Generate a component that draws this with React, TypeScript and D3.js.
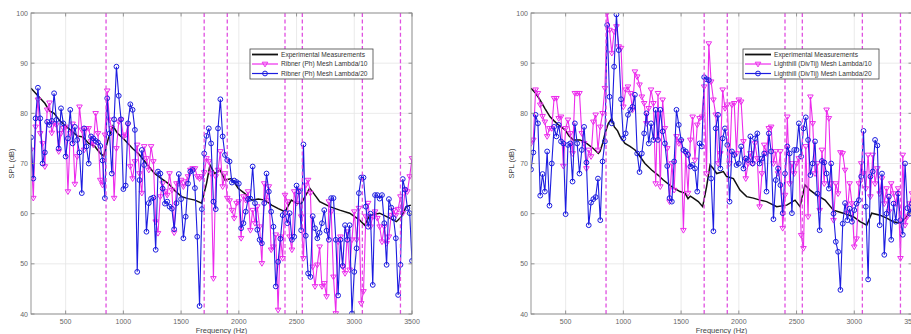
import { useRef, useEffect } from 'react';
import * as d3 from 'd3';

const W = 911;
const H = 334;
const TOP = 13;
const BOTTOM = 314;
const FONT = 'Liberation Sans, Arial, sans-serif';
const BLUE = '#1c1ce0';
const MAGENTA = '#ec2cec';

const X_DOMAIN = [200, 3500];
const Y_DOMAIN = [40, 100];
const X_TICKS = [500, 1000, 1500, 2000, 2500, 3000, 3500];
const Y_TICKS = [40, 50, 60, 70, 80, 90, 100];
const MODE_LINES = [850, 1700, 1900, 2400, 2550, 3070, 3400];

// simulated spectra share a 20 Hz frequency grid
const SIM_FREQ = d3.range(200, 3501, 20);

const RIBNER_L10 = [
  72.7, 63.1, 77.3, 82.7, 76.0, 74.0, 69.4, 80.7, 82.1, 76.1,
  78.0, 77.7, 72.4, 76.0, 77.0, 77.3, 64.4, 76.0, 77.9, 65.9,
  71.4, 81.3, 76.7, 72.7, 77.0, 77.0, 74.4, 73.7, 80.0, 76.0,
  66.7, 65.7, 75.7, 84.5, 78.7, 77.0, 63.1, 73.0, 78.3, 78.7,
  75.4, 75.7, 77.7, 69.4, 67.0, 70.4, 73.7, 68.0, 64.1, 73.4,
  71.0, 68.7, 73.4, 70.4, 58.4, 56.1, 63.4, 66.0, 64.4, 63.7,
  68.0, 64.7, 56.2, 66.0, 66.0, 66.7, 65.4, 66.4, 67.4, 68.7,
  69.0, 69.0, 67.4, 67.0, 67.4, 68.2, 71.0, 70.4, 68.0, 47.1,
  67.4, 68.7, 72.4, 65.4, 68.0, 63.1, 62.6, 60.7, 59.1, 62.1,
  62.4, 55.1, 63.4, 62.7, 64.4, 56.7, 60.7, 58.1, 61.4, 57.4,
  50.1, 66.0, 62.7, 65.4, 52.8, 53.4, 55.8, 40.8, 55.4, 51.1,
  63.7, 62.4, 55.4, 52.8, 64.4, 62.1, 64.7, 59.4, 51.1, 65.7,
  66.7, 64.1, 49.4, 45.5, 49.8, 53.4, 45.5, 46.1, 43.5, 62.4,
  60.4, 47.4, 40.1, 54.4, 55.4, 49.4, 48.1, 56.4, 48.8, 54.8,
  60.4, 54.8, 61.1, 42.1, 44.5, 59.4, 62.1, 57.4, 59.4, 60.4,
  59.1, 57.4, 54.4, 57.4, 54.1, 55.4, 59.7, 60.7, 59.7, 60.9,
  63.4, 60.1, 64.7, 64.4, 67.4, 71.0,
];

const RIBNER_L20 = [
  75.2, 67.0, 79.0, 85.1, 79.0, 70.0, 72.2, 78.3, 77.7, 78.5,
  84.0, 78.7, 73.0, 81.0, 78.0, 71.4, 75.0, 80.7, 74.0, 77.3,
  74.7, 72.2, 64.1, 77.0, 73.4, 70.0, 75.4, 75.0, 74.5, 74.2,
  73.5, 70.6, 63.1, 83.0, 76.0, 68.0, 78.8, 89.3, 83.5, 78.8,
  64.9, 65.6, 78.0, 81.8, 80.7, 76.7, 48.4, 66.7, 72.7, 69.7,
  56.4, 62.1, 63.0, 63.2, 52.8, 68.4, 68.0, 65.0, 62.0, 62.4,
  61.4, 61.0, 56.9, 62.1, 67.9, 62.9, 55.1, 59.4, 66.0, 68.4,
  68.7, 65.1, 55.4, 41.6, 60.9, 72.0, 75.5, 77.0, 74.0, 62.4,
  60.9, 77.0, 82.8, 75.4, 71.7, 70.7, 70.4, 66.2, 66.6, 66.3,
  66.0, 57.1, 58.1, 60.4, 62.9, 63.0, 69.4, 62.1, 56.8, 54.8,
  54.1, 62.1, 68.0, 64.4, 60.4, 57.4, 45.5, 50.4, 55.0, 59.7,
  60.2, 58.1, 60.1, 54.8, 55.4, 65.6, 64.4, 56.7, 73.8, 55.6,
  48.1, 47.4, 59.5, 57.1, 55.1, 56.2, 58.1, 60.7, 56.6, 54.8,
  63.1, 63.1, 54.8, 43.7, 54.8, 49.6, 57.7, 54.8, 57.7, 40.1,
  48.4, 53.1, 64.1, 67.2, 67.2, 61.4, 57.4, 60.0, 45.8, 63.7,
  63.7, 63.0, 63.7, 58.1, 49.8, 62.9, 61.2, 59.1, 55.1, 43.8,
  49.8, 66.9, 64.8, 61.1, 60.1, 50.6,
];

const LIGHTHILL_L10 = [
  74.0, 74.7, 84.7, 84.0, 81.7, 79.4, 78.3, 75.4, 77.0, 77.0,
  83.0, 83.0, 79.0, 79.3, 69.5, 77.0, 78.7, 76.0, 72.0, 84.0,
  84.0, 84.0, 76.0, 74.0, 69.0, 72.7, 71.4, 78.3, 79.7, 72.7,
  77.3, 80.0, 85.0, 100.0, 96.6, 92.0, 96.3, 97.3, 93.3, 93.0,
  81.3, 84.7, 85.3, 84.0, 80.7, 88.3, 87.3, 85.7, 83.3, 82.0,
  78.0, 81.0, 84.7, 82.0, 66.0, 84.0, 65.4, 82.7, 77.0, 73.0,
  62.4, 70.0, 64.7, 75.4, 74.0, 74.4, 56.7, 72.0, 64.1, 74.7,
  79.3, 70.7, 77.7, 79.0, 79.3, 85.3, 68.0, 93.9, 86.3, 82.7,
  79.7, 70.0, 72.0, 84.7, 81.0, 81.7, 70.0, 81.7, 82.0, 72.0,
  82.7, 82.3, 74.4, 67.0, 70.0, 72.0, 70.0, 74.0, 71.0, 61.4,
  68.0, 73.7, 72.0, 77.0, 77.3, 70.0, 72.4, 68.0, 72.4, 57.1,
  63.7, 79.3, 66.0, 70.0, 68.0, 70.0, 71.0, 55.7, 53.1, 73.4,
  59.4, 83.3, 78.0, 68.0, 70.0, 60.7, 72.7, 66.0, 80.7, 79.0,
  66.0, 58.7, 66.0, 64.0, 72.2, 72.0, 68.7, 60.1, 66.0, 62.0,
  53.4, 55.0, 66.0, 70.0, 68.0, 65.0, 71.7, 63.4, 71.7, 66.0,
  69.0, 64.0, 67.0, 62.0, 65.0, 60.4, 66.0, 64.0, 62.0, 65.0,
  51.1, 71.7, 57.7, 59.4, 62.0, 64.0,
];

const LIGHTHILL_L20 = [
  68.8, 72.2, 79.7, 78.0, 63.6, 67.9, 64.4, 72.4, 61.6, 70.0,
  77.3, 75.4, 77.7, 74.4, 74.0, 59.9, 73.7, 74.0, 66.4, 78.0,
  74.0, 68.0, 72.7, 77.3, 70.2, 57.7, 62.2, 62.9, 63.3, 67.0,
  58.7, 70.4, 74.4, 97.6, 83.3, 78.0, 89.3, 99.7, 92.6, 82.8,
  75.0, 76.0, 79.7, 80.7, 81.3, 83.7, 72.0, 68.3, 72.0, 76.0,
  80.0, 74.0, 78.0, 74.7, 80.7, 74.7, 80.7, 76.4, 74.0, 69.5,
  63.1, 62.4, 70.4, 80.7, 77.7, 74.7, 72.7, 72.4, 71.7, 69.4,
  69.7, 69.0, 64.4, 74.0, 73.4, 87.2, 86.8, 86.6, 67.0, 56.5,
  77.0, 79.7, 69.0, 75.0, 77.0, 73.7, 62.4, 72.4, 71.7, 69.7,
  70.0, 73.4, 69.0, 71.0, 70.7, 75.4, 70.0, 75.0, 76.0, 70.0,
  71.0, 72.0, 64.4, 76.0, 72.4, 58.9, 66.7, 69.0, 65.7, 60.1,
  68.0, 73.4, 72.0, 60.1, 72.7, 72.7, 78.0, 71.4, 77.0, 79.2,
  74.7, 67.7, 70.0, 74.4, 64.0, 56.7, 70.5, 70.2, 68.0, 65.0,
  70.0, 60.0, 54.4, 52.4, 44.8, 58.0, 62.1, 58.7, 61.0, 58.4,
  60.7, 62.0, 62.7, 67.4, 76.5, 61.4, 46.9, 67.4, 68.4, 74.7,
  73.6, 57.7, 68.0, 51.8, 60.0, 63.4, 54.8, 62.0, 58.4, 64.0,
  58.7, 55.8, 70.0, 61.1, 60.0, 62.0,
];

// experimental measurement, [Hz, dB]
const EXP_LEFT = [
  [200, 85.0], [240, 84.0], [280, 83.0], [320, 82.0], [360, 80.5], [400, 80.0],
  [450, 78.5], [500, 77.5], [550, 76.5], [600, 75.5], [650, 75.3], [700, 74.0],
  [750, 73.5], [800, 72.0], [830, 71.5], [870, 75.0], [910, 77.5], [950, 76.0],
  [1000, 75.0], [1040, 74.0], [1080, 73.0], [1130, 72.0], [1200, 70.0], [1270, 68.0],
  [1330, 67.0], [1390, 66.0], [1450, 64.5], [1505, 63.4], [1560, 63.0], [1620, 62.7],
  [1678, 62.1], [1720, 66.0], [1750, 69.7], [1790, 68.0], [1837, 68.7], [1880, 66.7],
  [1938, 67.0], [1996, 65.0], [2053, 64.0], [2111, 62.7], [2169, 62.9], [2227, 62.7],
  [2284, 61.7], [2342, 61.0], [2400, 60.4], [2455, 62.7], [2498, 62.1], [2540, 62.0],
  [2614, 65.1], [2650, 64.0], [2701, 62.4], [2787, 61.4], [2874, 60.7], [2960, 60.1],
  [3047, 58.7], [3090, 57.7], [3134, 59.7], [3220, 60.1], [3307, 59.1], [3365, 58.4],
  [3408, 59.4], [3451, 61.4], [3490, 61.7],
];

const EXP_RIGHT = [
  [200, 85.0], [240, 84.0], [278, 82.7], [320, 81.0], [365, 79.3], [400, 78.5],
  [437, 77.7], [495, 76.7], [530, 75.5], [567, 74.7], [625, 74.7], [682, 74.0],
  [740, 73.0], [783, 72.0], [798, 72.4], [820, 74.0], [841, 76.0], [870, 78.0],
  [899, 79.0], [922, 77.3], [950, 76.5], [971, 75.4], [1014, 74.0], [1057, 73.4],
  [1101, 72.7], [1144, 71.4], [1187, 70.0], [1245, 68.7], [1300, 67.7], [1346, 66.7],
  [1418, 65.4], [1490, 64.4], [1534, 64.1], [1560, 63.0], [1580, 63.5], [1606, 63.1],
  [1649, 62.4], [1687, 61.4], [1721, 65.4], [1751, 69.7], [1779, 69.0], [1808, 68.0],
  [1866, 68.4], [1895, 67.4], [1953, 67.0], [2010, 64.7], [2068, 63.4], [2126, 63.1],
  [2184, 62.7], [2241, 62.4], [2328, 61.4], [2415, 61.7], [2487, 62.7], [2530, 61.4],
  [2573, 65.7], [2617, 64.7], [2675, 63.7], [2747, 62.7], [2819, 60.7], [2905, 60.1],
  [2992, 59.4], [3050, 58.4], [3108, 57.7], [3151, 60.1], [3223, 59.7], [3281, 59.1],
  [3338, 58.4], [3396, 58.1], [3454, 59.4], [3500, 61.1],
];

const LEFT_NAMES = ['Experimental Measurements', 'Ribner (Ph) Mesh Lambda/10', 'Ribner (Ph) Mesh Lambda/20'];
const RIGHT_NAMES = ['Experimental Measurements', 'Lighthill (DivTij) Mesh Lambda/10', 'Lighthill (DivTij) Mesh Lambda/20'];

const PANELS = [
  { id: 'l', x0: 31, x1: 412, exp: EXP_LEFT, l10: RIBNER_L10, l20: RIBNER_L20, names: LEFT_NAMES, lx: 250, lw: 123 },
  { id: 'r', x0: 531, x1: 912, exp: EXP_RIGHT, l10: LIGHTHILL_L10, l20: LIGHTHILL_L20, names: RIGHT_NAMES, lx: 743, lw: 136 },
];

// downward triangle marker
const TRI = 'M-2.8,-1.8L2.8,-1.8L0,2.9Z';

function drawPanel(root, p) {
  const x = d3.scaleLinear().domain(X_DOMAIN).range([p.x0, p.x1]);
  const y = d3.scaleLinear().domain(Y_DOMAIN).range([BOTTOM, TOP]);
  const g = root.append('g');
  const clipId = 'clip-' + p.id;

  g.append('clipPath').attr('id', clipId)
    .append('rect')
    .attr('x', p.x0).attr('y', TOP)
    .attr('width', p.x1 - p.x0).attr('height', BOTTOM - TOP);

  // grid
  const grid = g.append('g').attr('stroke', '#e4e4e4').attr('stroke-width', 0.8);
  X_TICKS.forEach(t => grid.append('line').attr('x1', x(t)).attr('x2', x(t)).attr('y1', TOP).attr('y2', BOTTOM));
  Y_TICKS.forEach(t => grid.append('line').attr('x1', p.x0).attr('x2', p.x1).attr('y1', y(t)).attr('y2', y(t)));

  const plot = g.append('g').attr('clip-path', `url(#${clipId})`);

  // experimental
  plot.append('path')
    .attr('d', d3.line().x(d => x(d[0])).y(d => y(d[1]))(p.exp))
    .attr('fill', 'none').attr('stroke', '#111').attr('stroke-width', 1.5);

  const simLine = d3.line().x((_, i) => x(SIM_FREQ[i])).y(d => y(d));

  // lambda/10
  plot.append('path').attr('d', simLine(p.l10))
    .attr('fill', 'none').attr('stroke', MAGENTA).attr('stroke-width', 1.1);
  plot.append('g').selectAll('path').data(p.l10).join('path')
    .attr('d', TRI)
    .attr('transform', (d, i) => `translate(${x(SIM_FREQ[i])},${y(d)})`)
    .attr('fill', 'none').attr('stroke', MAGENTA).attr('stroke-width', 1);

  // lambda/20
  plot.append('path').attr('d', simLine(p.l20))
    .attr('fill', 'none').attr('stroke', BLUE).attr('stroke-width', 1.1);
  plot.append('g').selectAll('circle').data(p.l20).join('circle')
    .attr('cx', (d, i) => x(SIM_FREQ[i])).attr('cy', d => y(d)).attr('r', 2.4)
    .attr('fill', 'none').attr('stroke', BLUE).attr('stroke-width', 1);

  // mode lines
  plot.append('g').selectAll('line').data(MODE_LINES).join('line')
    .attr('x1', d => x(d)).attr('x2', d => x(d)).attr('y1', TOP).attr('y2', BOTTOM)
    .attr('stroke', '#e050e0').attr('stroke-width', 1.3).attr('stroke-dasharray', '4,2.6');

  // axes box + ticks
  const ax = g.append('g').attr('stroke', '#8a8a8a').attr('stroke-width', 0.9);
  ax.append('rect').attr('x', p.x0).attr('y', TOP).attr('width', p.x1 - p.x0).attr('height', BOTTOM - TOP).attr('fill', 'none');
  const tl = 3.5;
  X_TICKS.forEach(t => {
    ax.append('line').attr('x1', x(t)).attr('x2', x(t)).attr('y1', BOTTOM).attr('y2', BOTTOM - tl);
    ax.append('line').attr('x1', x(t)).attr('x2', x(t)).attr('y1', TOP).attr('y2', TOP + tl);
  });
  Y_TICKS.forEach(t => {
    ax.append('line').attr('x1', p.x0).attr('x2', p.x0 + tl).attr('y1', y(t)).attr('y2', y(t));
    ax.append('line').attr('x1', p.x1).attr('x2', p.x1 - tl).attr('y1', y(t)).attr('y2', y(t));
  });

  const txt = g.append('g').attr('font-family', FONT).attr('fill', '#666').attr('font-size', 7);
  X_TICKS.forEach(t => txt.append('text').attr('x', x(t)).attr('y', BOTTOM + 10).attr('text-anchor', 'middle').text(t));
  Y_TICKS.forEach(t => txt.append('text').attr('x', p.x0 - 3).attr('y', y(t) + 2.5).attr('text-anchor', 'end').text(t));

  txt.append('text')
    .attr('x', (p.x0 + p.x1) / 2).attr('y', BOTTOM + 19)
    .attr('text-anchor', 'middle').attr('font-size', 7.5).attr('fill', '#444')
    .text('Frequency (Hz)');
  txt.append('text')
    .attr('transform', `translate(${p.x0 - 17},${(TOP + BOTTOM) / 2}) rotate(-90)`)
    .attr('text-anchor', 'middle').attr('font-size', 7.5).attr('fill', '#444')
    .text('SPL (dB)');

  // legend
  const lg = g.append('g');
  const ly = 49;
  lg.append('rect').attr('x', p.lx).attr('y', ly).attr('width', p.lw).attr('height', 30)
    .attr('fill', '#fff').attr('stroke', '#444').attr('stroke-width', 0.8);
  const rows = [ly + 5.5, ly + 15, ly + 24.5];
  const colors = ['#111', MAGENTA, BLUE];
  rows.forEach((ry, i) => {
    lg.append('line').attr('x1', p.lx + 2).attr('x2', p.lx + 28).attr('y1', ry).attr('y2', ry)
      .attr('stroke', colors[i]).attr('stroke-width', i === 0 ? 1.8 : 1.2);
    if (i === 1) lg.append('path').attr('d', TRI).attr('transform', `translate(${p.lx + 15},${ry})`)
      .attr('fill', 'none').attr('stroke', MAGENTA).attr('stroke-width', 1);
    if (i === 2) lg.append('circle').attr('cx', p.lx + 15).attr('cy', ry).attr('r', 2.4)
      .attr('fill', 'none').attr('stroke', BLUE).attr('stroke-width', 1);
    lg.append('text').attr('x', p.lx + 31).attr('y', ry + 2.4)
      .attr('font-family', FONT).attr('font-size', 6.6).attr('fill', '#333')
      .text(p.names[i]);
  });
}

export default function App() {
  const svgRef = useRef(null);

  useEffect(() => {
    const el = svgRef.current;
    if (!el) return;
    el.innerHTML = '';
    const root = d3.select(el);
    root.append('rect').attr('width', W).attr('height', H).attr('fill', '#fff');
    PANELS.forEach(p => drawPanel(root, p));
  }, []);

  return (
    <svg
      ref={svgRef}
      width={W}
      height={H}
      style={{ position: 'absolute', left: 0, top: 0, display: 'block' }}
    />
  );
}
